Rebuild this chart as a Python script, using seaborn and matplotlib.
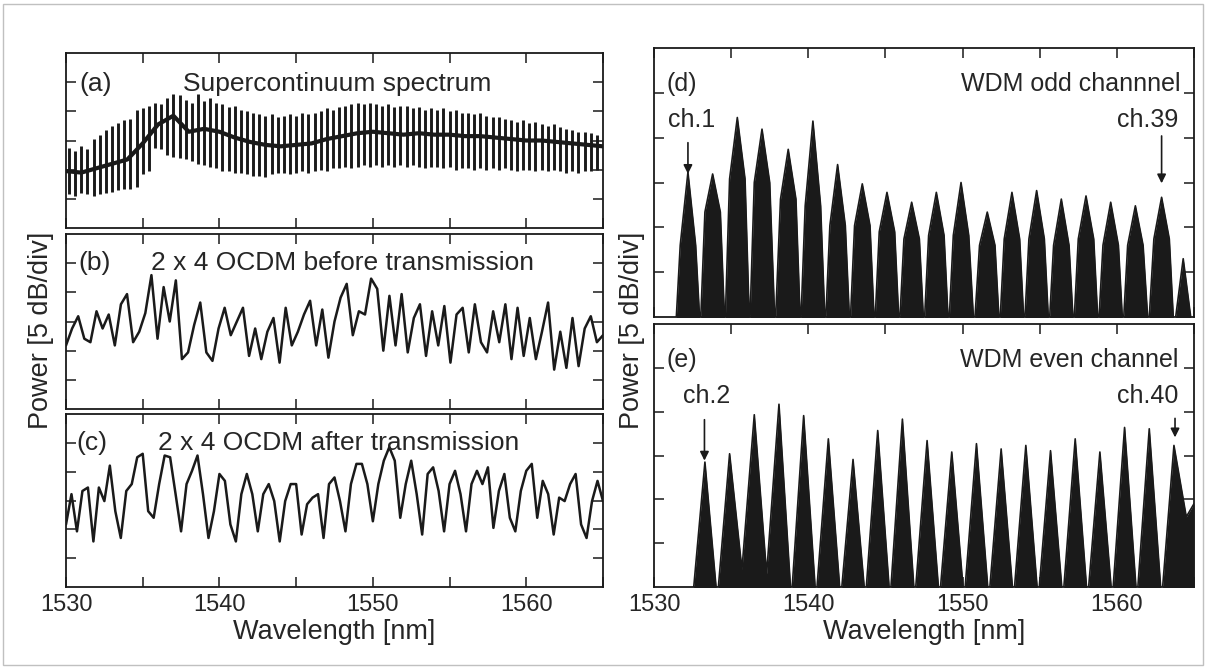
import numpy as np
import matplotlib
matplotlib.use("Agg")
import matplotlib.pyplot as plt
from matplotlib.patches import Rectangle
import seaborn as sns

sns.set_theme(style="white")
plt.rcParams["font.family"] = ["Liberation Sans", "DejaVu Sans"]

# power values are in divisions (5 dB/div), wavelengths in nm

# (a) supercontinuum: one sliced line every 0.4 nm, top and bottom of each
sc_nm = np.arange(1530.2, 1564.7, 0.4)
sc_top = [2.75, 2.65, 2.8, 2.7, 3.05,
          3.2, 3.35, 3.5, 3.6, 3.7,
          3.75, 4.05, 4.1, 4.2, 4.3,
          4.25, 4.45, 4.6, 4.55, 4.4,
          4.3, 4.6, 4.35, 4.45, 4.3,
          4.25, 4.15, 4.2, 4.05, 4.0,
          3.95, 3.9, 3.85, 3.9, 3.8,
          3.85, 3.9, 3.85, 3.95, 3.9,
          3.95, 4.0, 4.1, 4.05, 4.15,
          4.2, 4.25, 4.3, 4.25, 4.3,
          4.25, 4.2, 4.25, 4.15, 4.2,
          4.2, 4.1, 4.15, 4.05, 4.1,
          4.05, 4.1, 4.0, 4.05, 3.95,
          3.95, 3.9, 3.95, 3.85, 3.8,
          3.8, 3.75, 3.7, 3.65, 3.7,
          3.6, 3.65, 3.55, 3.5, 3.55,
          3.45, 3.4, 3.35, 3.3, 3.3,
          3.25, 3.2]
sc_bottom = [1.15, 1.1, 1.2, 1.15, 1.1,
             1.15, 1.2, 1.25, 1.3, 1.35,
             1.35, 1.4, 1.85, 1.95, 2.75,
             2.7, 2.5, 2.45, 2.4, 2.35,
             2.3, 2.2, 2.15, 2.1, 2.05,
             1.95, 1.95, 1.9, 1.9, 1.85,
             1.8, 1.8, 1.75, 1.85, 1.9,
             1.9, 1.85, 1.9, 1.95, 1.9,
             1.95, 2.0, 1.95, 2.05, 2.05,
             2.1, 2.05, 2.1, 2.15, 2.1,
             2.15, 2.1, 2.15, 2.1, 2.15,
             2.1, 2.15, 2.1, 2.05, 2.1,
             2.1, 2.05, 2.1, 2.0, 2.05,
             2.05, 2.0, 2.05, 2.0, 2.05,
             2.0, 2.05, 2.0, 1.95, 2.0,
             2.0, 1.95, 2.0, 1.95, 2.0,
             1.95, 1.9, 1.95, 1.9, 1.95,
             1.95, 2.0]
# dark core of the supercontinuum trace, read every 1 nm
core_nm = np.arange(1530, 1566, 1)
core_pw = [1.95, 1.9, 2.05, 2.2, 2.35, 2.9, 3.55, 3.85, 3.3, 3.4,
           3.3, 3.1, 2.95, 2.85, 2.8, 2.85, 2.9, 3.05, 3.15, 3.25,
           3.3, 3.25, 3.2, 3.25, 3.2, 3.2, 3.15, 3.15, 3.1, 3.05,
           3.0, 3.0, 2.95, 2.9, 2.85, 2.8]

# (b) 2 x 4 OCDM before transmission, read at even steps over 1530-1565 nm
ocdm_before = [2.18, 2.76, 3.18, 2.41, 2.29, 3.35, 2.76, 3.24, 2.18, 3.59,
               3.94, 2.29, 2.65, 3.29, 4.59, 2.41, 4.18, 3.0, 4.41, 1.71,
               1.94, 2.88, 3.65, 1.94, 1.65, 2.76, 3.47, 2.53, 3.0, 3.47,
               1.82, 2.76, 1.71, 2.65, 3.12, 1.59, 3.47, 2.18, 2.65, 3.24,
               3.71, 2.18, 3.41, 1.76, 3.0, 3.82, 4.29, 2.53, 3.35, 3.24,
               4.47, 4.12, 2.0, 3.88, 2.18, 3.94, 1.94, 3.12, 3.59, 1.82,
               3.35, 2.18, 3.53, 1.59, 3.24, 3.47, 1.94, 3.59, 2.29, 1.94,
               3.35, 2.29, 3.59, 1.71, 3.47, 1.82, 3.12, 1.71, 2.65, 3.65,
               1.35, 2.65, 1.41, 3.12, 1.47, 2.76, 3.18, 2.29, 2.53]

# (c) 2 x 4 OCDM after transmission, read at even steps over 1530-1565 nm
ocdm_after = [2.17, 3.22, 1.93, 3.33, 3.45, 1.58, 3.45, 2.98, 4.21, 2.63,
              1.70, 3.33, 3.57, 4.50, 4.62, 2.63, 2.40, 3.57, 4.56, 4.50,
              3.22, 1.93, 3.57, 4.03, 4.56, 3.22, 1.70, 2.63, 3.92, 3.68,
              2.17, 1.58, 3.22, 3.92, 3.22, 1.93, 3.22, 3.57, 2.98, 1.58,
              2.98, 3.57, 3.57, 1.82, 2.87, 3.10, 3.22, 1.70, 3.57, 3.80,
              2.98, 1.93, 3.57, 4.27, 4.27, 3.57, 2.28, 3.57, 4.38, 4.85,
              4.38, 2.40, 3.57, 4.38, 3.22, 1.82, 3.92, 4.15, 3.33, 1.93,
              3.57, 4.03, 3.22, 1.93, 3.57, 4.03, 3.57, 4.15, 2.05, 3.33,
              3.92, 2.40, 1.93, 3.33, 4.03, 4.27, 2.40, 3.68, 3.22, 1.82,
              3.10, 2.98, 3.57, 3.92, 2.17, 1.70, 2.98, 3.68, 2.98]

# (d) WDM odd channels: centre, highest spike, level of the dense body
odd_ch_nm = [1532.2, 1533.8, 1535.4, 1537.0, 1538.7, 1540.3, 1541.9, 1543.5,
             1545.1, 1546.7, 1548.3, 1549.9, 1551.6, 1553.2, 1554.8, 1556.4,
             1558.0, 1559.6, 1561.2, 1562.9]
odd_top = [3.23, 3.19, 4.45, 4.19, 3.74, 4.37, 3.4, 2.97, 2.78, 2.56,
           2.78, 3.0, 2.34, 2.78, 2.82, 2.63, 2.7, 2.56, 2.48, 2.67]
odd_body = [1.6, 2.34, 3.08, 3.0, 2.63, 2.48, 2.04, 2.04, 1.9, 1.74,
            1.82, 1.82, 1.6, 1.74, 1.74, 1.6, 1.74, 1.6, 1.6, 1.74]
odd_valley = [-0.3] * 21
odd_tail_nm = [1564.3, 1564.9]
odd_tail_pw = [1.3, -0.3]

# (e) WDM even channels: centre and peak
even_ch_nm = [1533.3, 1534.9, 1536.5, 1538.1, 1539.7, 1541.3, 1542.9, 1544.5,
              1546.1, 1547.7, 1549.3, 1550.9, 1552.5, 1554.1, 1555.7, 1557.3,
              1558.9, 1560.5, 1562.1, 1563.7]
even_top = [2.85, 3.04, 3.93, 4.17, 3.91, 3.38, 2.91, 3.57, 3.83, 3.34,
            3.08, 3.27, 3.15, 3.23, 3.11, 3.38, 3.08, 3.64, 3.61, 3.23]
even_valley = [-0.3, -0.3, 0.4, 0.3, -0.3, -0.3, -0.3, -0.3, -0.3, -0.3, -0.3,
               -0.3, -0.3, -0.3, -0.3, -0.3, -0.3, -0.3, -0.3, -0.3, 1.6]
even_tail_nm = [1565.0]
even_tail_pw = [1.9]


def channel_outline(centers, valleys, tops, body=None, half=0.8):
    c = np.asarray(centers)
    edges = np.concatenate([[c[0] - half], (c[:-1] + c[1:]) / 2, [c[-1] + half]])
    xs, ys = [], []
    for k in range(len(c)):
        xs.append(edges[k])
        ys.append(valleys[k])
        if body is None:
            xs.append(c[k])
            ys.append(tops[k])
        else:
            xs += [c[k] - 0.5, c[k], c[k] + 0.5]
            ys += [body[k], tops[k], body[k]]
    xs.append(edges[-1])
    ys.append(valleys[-1])
    return xs, ys


def style_axis(ax, show_labels):
    ax.set_xlim(1530, 1565)
    ax.set_ylim(0, 6)
    ax.set_xticks(np.arange(1530, 1566, 5))
    if show_labels:
        ax.set_xticklabels(["1530", "", "1540", "", "1550", "", "1560", ""])
    else:
        ax.set_xticklabels([])
    ax.set_yticks([1, 2, 3, 4, 5])
    ax.set_yticklabels([])
    ax.tick_params(direction="in", top=True, right=True, bottom=True, left=True,
                   length=7, width=1.1, color="k", labelsize=17, pad=5)
    for sp in ax.spines.values():
        sp.set_color("k")
        sp.set_linewidth(1.3)
    ax.set_facecolor("white")


fig = plt.figure(figsize=(12.07, 6.68), dpi=100)
W, H = 1207, 668


def box(x0, y0, x1, y1):
    return [x0 / W, 1 - y1 / H, (x1 - x0) / W, (y1 - y0) / H]


ax_a = fig.add_axes(box(66, 53, 603, 228))
ax_b = fig.add_axes(box(66, 234, 603, 409))
ax_c = fig.add_axes(box(66, 414, 603, 587))
ax_d = fig.add_axes(box(654, 48, 1194, 317))
ax_e = fig.add_axes(box(654, 324, 1194, 587))

# (a)
ax_a.vlines(sc_nm, sc_bottom, sc_top, color="k", lw=2.1)
sns.lineplot(x=core_nm, y=core_pw, ax=ax_a, color="k", lw=3)
style_axis(ax_a, False)
ax_a.text(1530.9, 4.95, "(a)", fontsize=19, va="center", ha="left")
ax_a.text(1547.7, 4.95, "Supercontinuum spectrum", fontsize=19, va="center", ha="center")

# (b)
sns.lineplot(x=np.linspace(1530, 1565, len(ocdm_before)), y=ocdm_before,
             ax=ax_b, color="k", lw=1.8)
style_axis(ax_b, False)
ax_b.text(1530.8, 5.0, "(b)", fontsize=19, va="center", ha="left")
ax_b.text(1548.0, 5.0, "2 x 4 OCDM before transmission", fontsize=19,
          va="center", ha="center")

# (c)
sns.lineplot(x=np.linspace(1530, 1565, len(ocdm_after)), y=ocdm_after,
             ax=ax_c, color="k", lw=1.8)
style_axis(ax_c, True)
ax_c.text(1530.7, 5.0, "(c)", fontsize=19, va="center", ha="left")
ax_c.text(1547.8, 5.0, "2 x 4 OCDM after transmission", fontsize=19,
          va="center", ha="center")
ax_c.set_xlabel("Wavelength [nm]", fontsize=19.5, labelpad=2)

# (d)
xd, yd = channel_outline(odd_ch_nm, odd_valley, odd_top, odd_body)
xd += odd_tail_nm
yd += odd_tail_pw
ax_d.fill_between(xd, yd, -1, color="k", lw=0)
sns.lineplot(x=xd, y=yd, ax=ax_d, color="k", lw=1.2, sort=False, estimator=None)
style_axis(ax_d, False)
ax_d.text(1530.8, 5.2, "(d)", fontsize=18, va="center", ha="left")
ax_d.text(1564.1, 5.2, "WDM odd channnel", fontsize=18, va="center", ha="right")
ax_d.text(1530.9, 4.4, "ch.1", fontsize=18, va="center", ha="left")
ax_d.text(1564.0, 4.4, "ch.39", fontsize=18, va="center", ha="right")
arrow = dict(arrowstyle="-|>", color="k", lw=1.2, mutation_scale=13)
ax_d.annotate("", xy=(1532.2, 3.13), xytext=(1532.2, 3.95), arrowprops=arrow)
ax_d.annotate("", xy=(1562.9, 2.92), xytext=(1562.9, 4.1), arrowprops=arrow)

# (e)
xe, ye = channel_outline(even_ch_nm, even_valley, even_top)
xe += even_tail_nm
ye += even_tail_pw
ax_e.fill_between(xe, ye, -1, color="k", lw=0)
sns.lineplot(x=xe, y=ye, ax=ax_e, color="k", lw=1.2, sort=False, estimator=None)
style_axis(ax_e, True)
ax_e.text(1530.8, 5.19, "(e)", fontsize=18, va="center", ha="left")
ax_e.text(1564.0, 5.19, "WDM even channel", fontsize=18, va="center", ha="right")
ax_e.text(1533.4, 4.35, "ch.2", fontsize=18, va="center", ha="center")
ax_e.text(1564.0, 4.35, "ch.40", fontsize=18, va="center", ha="right")
ax_e.annotate("", xy=(1533.27, 2.82), xytext=(1533.27, 3.88), arrowprops=arrow)
ax_e.annotate("", xy=(1563.77, 3.35), xytext=(1563.77, 3.91), arrowprops=arrow)
ax_e.set_xlabel("Wavelength [nm]", fontsize=19.5, labelpad=2)

fig.text(40.5 / W, 1 - 330 / H, "Power [5 dB/div]", rotation=90,
         ha="center", va="center", fontsize=19.5)
fig.text(632 / W, 1 - 330 / H, "Power [5 dB/div]", rotation=90,
         ha="center", va="center", fontsize=19.5)

fig.patches.append(Rectangle((3 / W, 3 / H), 1200 / W, 661 / H,
                             transform=fig.transFigure, fill=False,
                             ec="#c0c0c0", lw=1))

fig.savefig("out.png", dpi=100, facecolor="white")
